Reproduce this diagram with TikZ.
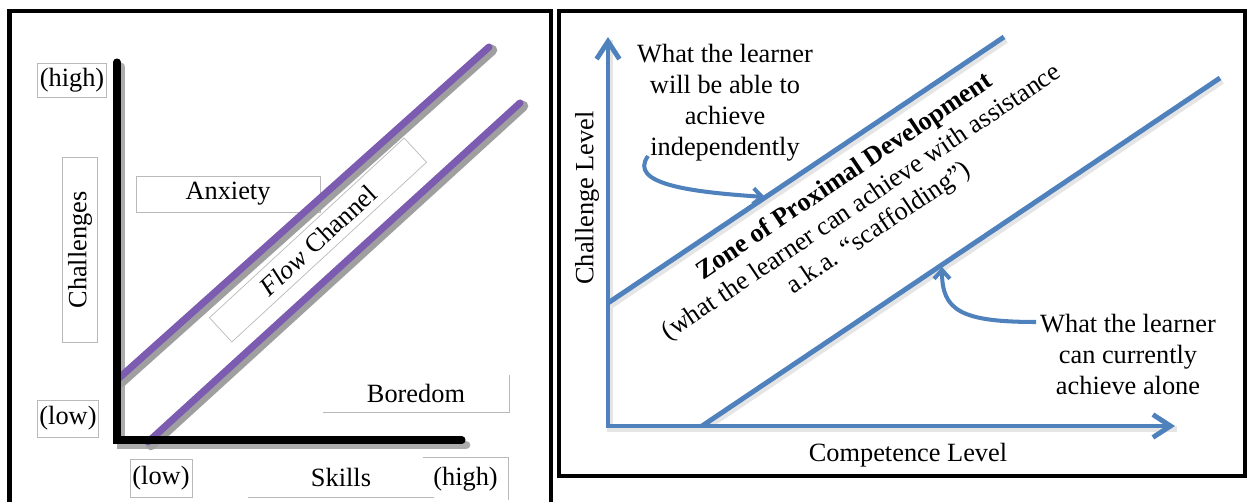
\documentclass[tikz,border=0pt]{standalone}
\usepackage{fontspec}
\setmainfont{Liberation Serif}
\usetikzlibrary{arrows.meta,calc,positioning}
\definecolor{flowpurple}{RGB}{124,92,176}
\definecolor{zpdblue}{RGB}{79,129,189}

\begin{document}
\begin{tikzpicture}[x=0.02cm,y=-0.02cm,
    every node/.style={font=\fontsize{15}{17.6}\selectfont},
    lblbox/.style={draw=gray!55,line width=0.4pt,inner sep=0pt,align=center},
    nobox/.style={inner sep=0pt,align=center},
    frame/.style={line width=2.8pt},
    axline/.style={line width=4pt,line cap=round},
    axshadow/.style={gray!65,line width=5pt,line cap=round,
        transform canvas={shift={(4,5)}}},
    flowline/.style={flowpurple,line width=4pt,line cap=round},
    flowshadow/.style={gray!75,line width=6pt,line cap=round,
        transform canvas={shift={(3,3)}}},
    blueax/.style={zpdblue,line width=2.8pt},
    blueshadow/.style={gray!20,line width=3.6pt,
        transform canvas={shift={(2,3)}}},
    callout/.style={zpdblue,line width=2.3pt,
        -{Straight Barb[length=5pt,width=9pt]}}]
                  \useasboundingbox (0,0) rectangle (1252,502);

                  % Left panel: flow channel
                  \draw[frame] (9.5,502) -- (9.5,11) -- (551,11) -- (551,502);

                  \node[lblbox,minimum width=1.37cm,minimum height=0.68cm] (chigh) at (72,80) {(high)};
                  \node[lblbox,rotate=90,minimum width=3.7cm,minimum height=0.7cm] (chal) at (80,250) {Challenges};
                  \node[lblbox,minimum width=3.68cm,minimum height=0.72cm] (anx) at (228,194) {Anxiety};
                  \node[lblbox,minimum width=1.23cm,minimum height=0.74cm] (clow) at (68,418.5) {(low)};
                  \node[lblbox,minimum width=1.24cm,minimum height=0.76cm] (slow) at (161,478) {(low)};
                  \node[nobox,minimum width=3.72cm,minimum height=0.8cm] (skills) at (341,477) {Skills};
                  \node[nobox,minimum width=1.7cm,minimum height=0.84cm] (shigh) at (465.5,479) {(high)};
                  \node[nobox,minimum width=3.72cm,minimum height=0.74cm] (bore) at (416,393.5) {Boredom};
                  \node[lblbox,rotate=42.7,minimum width=5.3cm,minimum height=0.66cm] (flow) at (318,240) {\textit{Flow} Channel};

                  \draw[gray!55] (skills.south west) -- (skills.south east);
                  \draw[gray!55] (shigh.north west) -- (shigh.north east) -- (shigh.south east);
                  \draw[gray!55] (bore.south west) -- (bore.south east) -- (bore.north east);

                  \coordinate (ytop) at (117,62);
                  \coordinate (orig) at (117,440);
                  \coordinate (xend) at (462,440);
                  \coordinate (up0) at (118,379);
                  \coordinate (up1) at (489,47);
                  \coordinate (lo0) at (148,442);
                  \coordinate (lo1) at (520,103);

                  \draw[axshadow] (ytop) -- (orig) -- (xend);
                  \draw[flowshadow] (up0) -- (up1);
                  \draw[flowshadow] (lo0) -- (lo1);
                  \draw[flowline] (up0) -- (up1);
                  \draw[flowline] (lo0) -- (lo1);
                  \draw[axline] (ytop) -- (orig) -- (xend);

                  % Right panel: zone of proximal development
                  \draw[frame] (559,11) rectangle (1245,476);

                  \coordinate (zo) at (608,426);
                  \coordinate (ztop) at (608,37);
                  \coordinate (zright) at (1175,426);
                  \coordinate (zu0) at (608,303);
                  \coordinate (zu1) at (1004,37);
                  \coordinate (zl0) at (702,426);
                  \coordinate (zl1) at (1220,78);

                  \draw[blueshadow] (ztop) -- (zo) -- (zright);
                  \draw[blueshadow] (zu0) -- (zu1);
                  \draw[blueshadow] (zl0) -- (zl1);
                  \draw[blueax,{Straight Barb[length=10pt,width=13pt]}-{Straight Barb[length=10pt,width=13pt]}]
                  (ztop) -- (zo) -- (zright);
                  \draw[blueax] (zu0) -- (zu1);
                  \draw[blueax] (zl0) -- (zl1);

                  \node[nobox,anchor=north] (indep) at (725,44)
                  {What the learner\\will be able to\\achieve\\independently};
                  \node[nobox,anchor=north] (alone) at (1128,314)
                  {What the learner\\can currently\\achieve alone};
                  \node[nobox,rotate=90] (clev) at (587,198) {Challenge Level};
                  \node[nobox] (comp) at (908,455) {Competence Level};
                  \node[nobox,rotate=33.9] (zpd) at (862,203)
                  {\textbf{Zone of Proximal Development}\\(what the learner can achieve with assistance\\a.k.a. “scaffolding”)};

                  \coordinate (a1s) at (648,156);
                  \coordinate (a1e) at (765,197);
                  \coordinate (a2s) at (1036,322);
                  \coordinate (a2e) at (942,267);
                  \draw[callout] (a1s) .. controls (628,184) and (690,192) .. (a1e);
                  \draw[callout] (a2s) .. controls (960,322) and (942,310) .. (a2e);
\end{tikzpicture}
\end{document}
